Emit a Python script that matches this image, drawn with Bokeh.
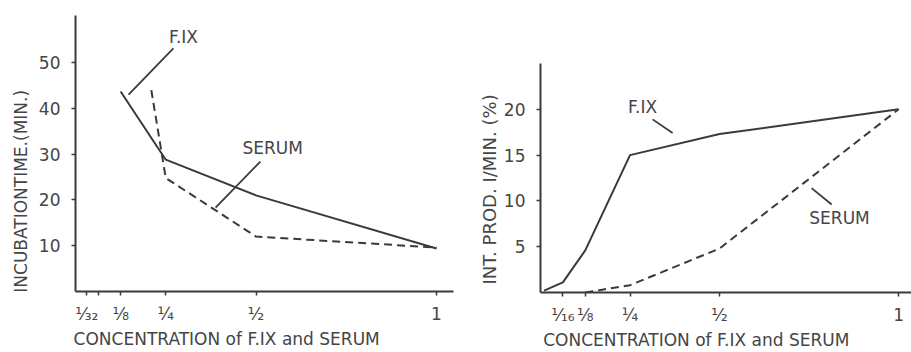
from bokeh.plotting import figure
from bokeh.layouts import row, column
from bokeh.models import FixedTicker, Range1d
from bokeh.core.properties import value
from bokeh.embed import file_html
from bokeh.resources import INLINE

# ---- data: left panel (incubation time) ----
left_fix_x = [0.125, 0.25, 0.5, 1.0]
left_fix_y = [43.7, 28.8, 21.0, 9.4]
left_serum_x = [0.21, 0.25, 0.5, 1.0]
left_serum_y = [44.0, 24.8, 12.0, 9.6]
left_xticks = [1/32, 1/16, 1/8, 1/4, 1/2, 1.0]
left_xlabels = ["¹⁄₃₂", "", "⅛", "¼", "½", "1"]
left_yticks = [10, 20, 30, 40, 50]

# ---- data: right panel (intermediate product) ----
right_fix_x = [0.01, 0.0625, 0.125, 0.25, 0.5, 1.0]
right_fix_y = [0.2, 1.1, 4.6, 15.0, 17.3, 20.0]
right_serum_x = [0.125, 0.25, 0.5, 1.0]
right_serum_y = [0.0, 0.8, 4.8, 20.0]
right_xticks = [1/16, 1/8, 1/4, 1/2, 1.0]
right_xlabels = ["¹⁄₁₆", "⅛", "¼", "½", "1"]
right_yticks = [5, 10, 15, 20]

# annotation anchors (data space)
left_fix_label = (0.299, 55.7)
left_fix_leader = ([0.271, 0.147], [53.1, 43.0])
left_serum_label = (0.546, 31.4)
left_serum_leader = ([0.512, 0.388], [28.4, 18.3])
right_fix_label = (0.285, 20.2)
right_fix_leader = ([0.313, 0.369], [18.9, 17.4])
right_serum_label = (0.835, 8.1)
right_serum_leader = ([0.757, 0.813], [11.4, 9.6])

FONT = "DejaVu Sans"
INK = "#3a3a3a"
TXT = "#454545"
NB = "\u00a0"


def style(p, xticks, xlabels, yticks, xlabel, ylabel):
    p.xaxis.ticker = FixedTicker(ticks=xticks)
    p.xaxis.major_label_overrides = {t: l for t, l in zip(xticks, xlabels)}
    p.yaxis.ticker = FixedTicker(ticks=yticks)
    p.xgrid.visible = False
    p.ygrid.visible = False
    p.outline_line_color = None
    p.background_fill_color = "white"
    p.border_fill_color = "white"
    for ax in (p.xaxis[0], p.yaxis[0]):
        ax.axis_line_color = INK
        ax.axis_line_width = 2
        ax.major_tick_line_color = INK
        ax.major_tick_line_width = 1.5
        ax.major_tick_out = 4
        ax.major_tick_in = 0
        ax.minor_tick_line_color = None
        ax.major_label_text_font = FONT
        ax.major_label_text_font_size = "17px"
        ax.major_label_text_color = TXT
        ax.axis_label_text_font = FONT
        ax.axis_label_text_font_size = "17px"
        ax.axis_label_text_font_style = "normal"
        ax.axis_label_text_color = TXT
    p.xaxis.axis_label = xlabel
    p.yaxis.axis_label = ylabel
    p.xaxis.major_label_standoff = 8
    p.xaxis.axis_label_standoff = 2
    p.yaxis.major_label_standoff = 11


def annotate(p, label, pos, leader):
    p.text(x=[pos[0]], y=[pos[1]], text=[label], text_font=value(FONT),
           text_font_size="17px", text_color=TXT, text_align="center",
           text_baseline="middle")
    p.line(leader[0], leader[1], line_color=INK, line_width=1.8)


# ---- left figure ----
p1 = figure(width=455, height=352, output_backend="svg", toolbar_location=None,
            x_range=Range1d(0, 1.047), y_range=Range1d(0, 60.3),
            min_border_left=75, min_border_right=2, min_border_top=15,
            min_border_bottom=61)
style(p1, left_xticks, left_xlabels, left_yticks,
      "CONCENTRATION of F.IX and SERUM" + NB * 14,
      "INCUBATIONTIME.(MIN.)" + NB * 14)
p1.yaxis.axis_label_standoff = 5
p1.line(left_fix_x, left_fix_y, line_color=INK, line_width=2)
p1.line(left_serum_x, left_serum_y, line_color=INK, line_width=2,
        line_dash="8 5")
annotate(p1, "F.IX", left_fix_label, left_fix_leader)
annotate(p1, "SERUM", left_serum_label, left_serum_leader)

# ---- right figure ----
p2 = figure(width=456, height=352, output_backend="svg", toolbar_location=None,
            x_range=Range1d(0, 1.036), y_range=Range1d(0, 25),
            min_border_left=85, min_border_right=0, min_border_top=63,
            min_border_bottom=60)
style(p2, right_xticks, right_xlabels, right_yticks,
      "CONCENTRATION of F.IX and SERUM" + NB * 11,
      "INT. PROD. I/MIN. (%)" + NB * 4)
p2.yaxis.axis_label_standoff = 1
p2.yaxis.axis_label_text_font_size = "18px"
p2.line(right_fix_x, right_fix_y, line_color=INK, line_width=2)
p2.line(right_serum_x, right_serum_y, line_color=INK, line_width=2,
        line_dash="8 5")
annotate(p2, "F.IX", right_fix_label, right_fix_leader)
annotate(p2, "SERUM", right_serum_label, right_serum_leader)

layout = row(column(p1), column(p2))
open("out.html", "w").write(file_html(layout, INLINE))
